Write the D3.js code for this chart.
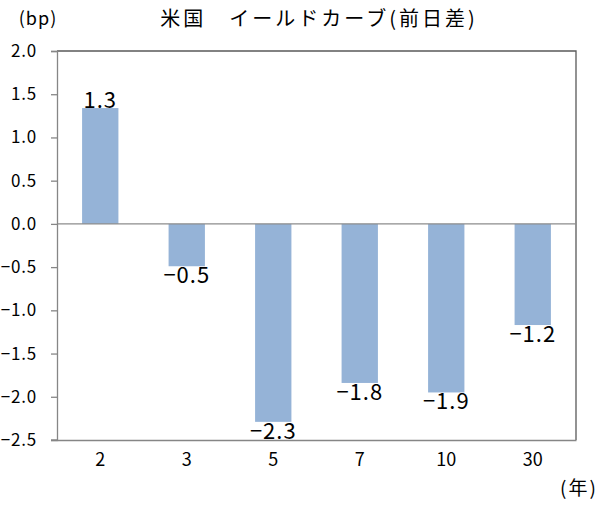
<!DOCTYPE html>
<html lang="ja">
<head>
  <meta charset="UTF-8">
  <title>米国 イールドカーブ(前日差)</title>
  <script src="https://d3js.org/d3.v7.min.js"></script>
  <style>
    body { margin: 0; background: #fff; }
    svg { display: block; font-family: "Noto Sans CJK JP", sans-serif; }
  </style>
</head>
<body>
  <svg width="606" height="506"></svg>
  <script>
    // data
    const tenors = ["2", "3", "5", "7", "10", "30"];
    const changes = [1.34, -0.49, -2.29, -1.84, -1.95, -1.17];
    const yTicks = [2.0, 1.5, 1.0, 0.5, 0.0, -0.5, -1.0, -1.5, -2.0, -2.5];

    const svg = d3.select("svg");
    const plot = { left: 57, right: 576, top: 51, bottom: 440 };

    const x = d3.scaleBand().domain(tenors).range([plot.left, plot.right]).paddingInner(0.58).paddingOuter(0.29);
    const y = d3.scaleLinear().domain([-2.5, 2.0]).range([plot.bottom, plot.top]);
    const fmt = d3.format(".1f");

    // plot frame (top/right)
    svg.append("path")
      .attr("d", `M${plot.left},${plot.top}H${plot.right}V${plot.bottom}`)
      .attr("fill", "none").attr("stroke", "#595959").attr("stroke-width", 1.3);

    // bars
    svg.selectAll("rect.bar")
      .data(changes)
      .join("rect")
      .attr("class", "bar")
      .attr("x", (d, i) => x(tenors[i]))
      .attr("width", x.bandwidth())
      .attr("y", d => y(Math.max(0, d)))
      .attr("height", d => Math.abs(y(d) - y(0)))
      .attr("fill", "#95B3D7");

    // zero line
    svg.append("line")
      .attr("x1", plot.left).attr("x2", plot.right)
      .attr("y1", y(0)).attr("y2", y(0))
      .attr("stroke", "#8c8c8c").attr("stroke-width", 1.3);

    // y axis
    const yAxis = svg.append("g")
      .attr("transform", `translate(${plot.left},0)`)
      .call(d3.axisLeft(y).tickValues(yTicks).tickFormat(fmt).tickSize(6).tickPadding(14));
    yAxis.select(".domain").attr("stroke", "#868686").attr("stroke-width", 1.3);
    yAxis.selectAll(".tick line").attr("stroke", "#868686").attr("stroke-width", 1.3);
    yAxis.selectAll("text").attr("font-size", 17).attr("fill", "#000")
      .attr("font-family", "Noto Sans CJK JP").attr("letter-spacing", 0.8);

    // x axis
    const xAxis = svg.append("g")
      .attr("transform", `translate(0,${plot.bottom})`)
      .call(d3.axisBottom(x).tickSize(0).tickPadding(13));
    xAxis.select(".domain").attr("stroke", "#868686").attr("stroke-width", 1.3);
    xAxis.selectAll("text").attr("font-size", 18).attr("fill", "#000")
      .attr("font-family", "Noto Sans CJK JP");
    svg.append("line")
      .attr("x1", plot.left - 6).attr("x2", plot.left)
      .attr("y1", plot.bottom).attr("y2", plot.bottom)
      .attr("stroke", "#868686").attr("stroke-width", 1.3);

    // value labels
    svg.selectAll("text.val")
      .data(changes)
      .join("text")
      .attr("class", "val")
      .attr("x", (d, i) => x(tenors[i]) + x.bandwidth() / 2)
      .attr("y", d => d >= 0 ? y(d) : y(d) + 17)
      .attr("text-anchor", "middle")
      .attr("font-size", 22)
      .attr("letter-spacing", 1)
      .attr("fill", "#000")
      .text(d => fmt(d));

    // title and unit labels
    svg.append("text").attr("x", 319).attr("y", 26).attr("text-anchor", "middle")
      .attr("font-size", 20).attr("letter-spacing", 3).attr("fill", "#000")
      .text("米国　イールドカーブ(前日差)");
    svg.append("text").attr("x", 38).attr("y", 25).attr("text-anchor", "middle")
      .attr("font-size", 18).attr("letter-spacing", 1).attr("fill", "#000").text("(bp)");
    svg.append("text").attr("x", 579).attr("y", 495).attr("text-anchor", "middle")
      .attr("font-size", 19).attr("letter-spacing", 2).attr("fill", "#000").text("(年)");
  </script>
</body>
</html>
